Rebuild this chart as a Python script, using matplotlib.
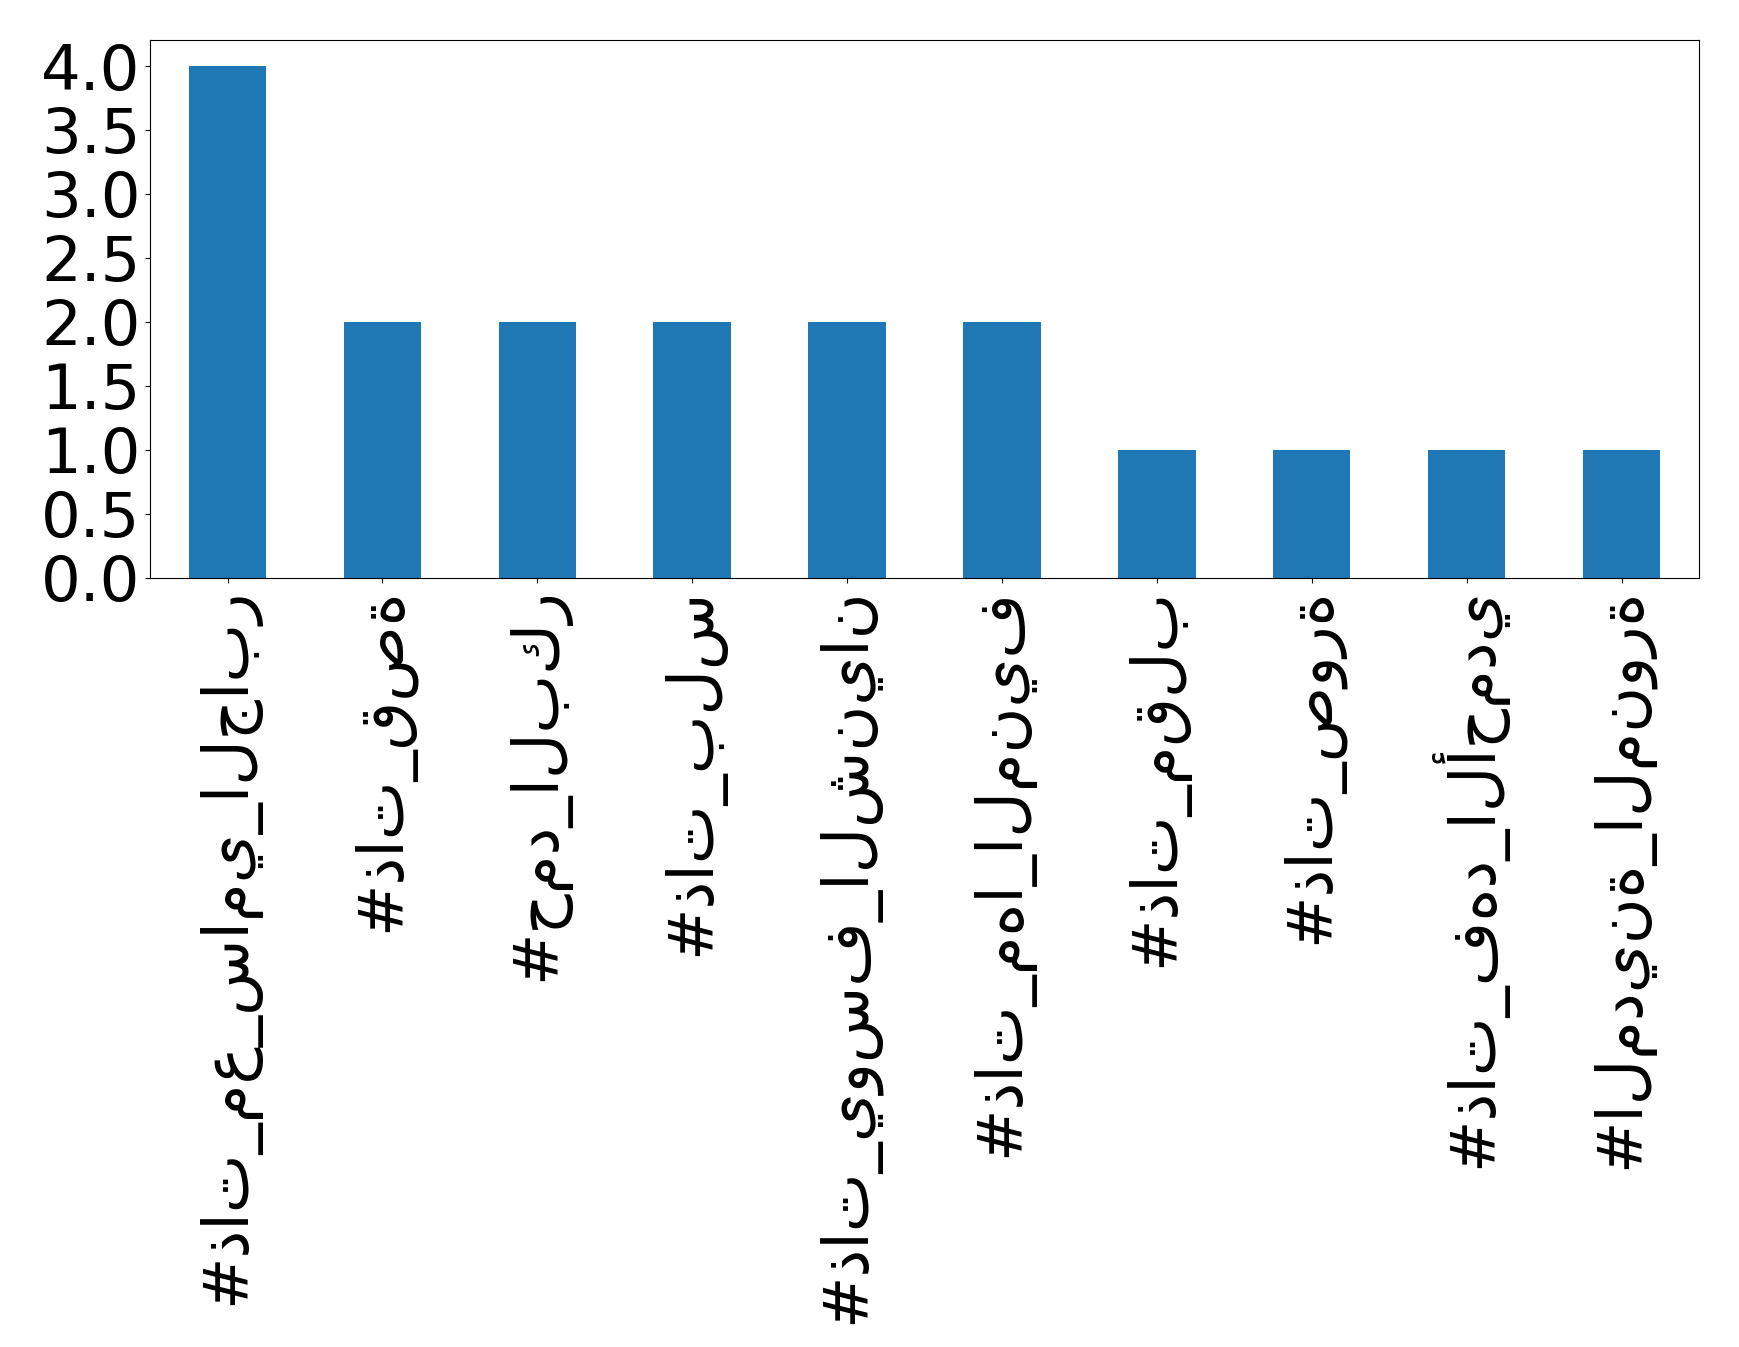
import matplotlib
matplotlib.use("Agg")
import matplotlib.pyplot as plt
import pandas as pd

# hashtag counts (labels drawn unshaped, as matplotlib does by default)
hashtags = [
    "#ذات_مع_سامي_الجابر",
    "#ذات_قصة",
    "#حمد_البكر",
    "#ذات_بلس",
    "#ذات_يوسف_الشنيان",
    "#ذات_مها_المنيف",
    "#ذات_مقلب",
    "#ذات_صورة",
    "#ذات_فهد_الأحمدي",
    "#المدينة_المنورة",
]
counts = [4, 2, 2, 2, 2, 2, 1, 1, 1, 1]

s = pd.Series(counts, index=hashtags)

fig = plt.figure(figsize=(17.39, 13.47), dpi=100)
ax = fig.add_axes([0.0863, 0.571, 0.8907, 0.399])
s.plot(kind="bar", ax=ax, fontsize=45, color="#1f77b4")
fig.savefig("out.png", dpi=100)
